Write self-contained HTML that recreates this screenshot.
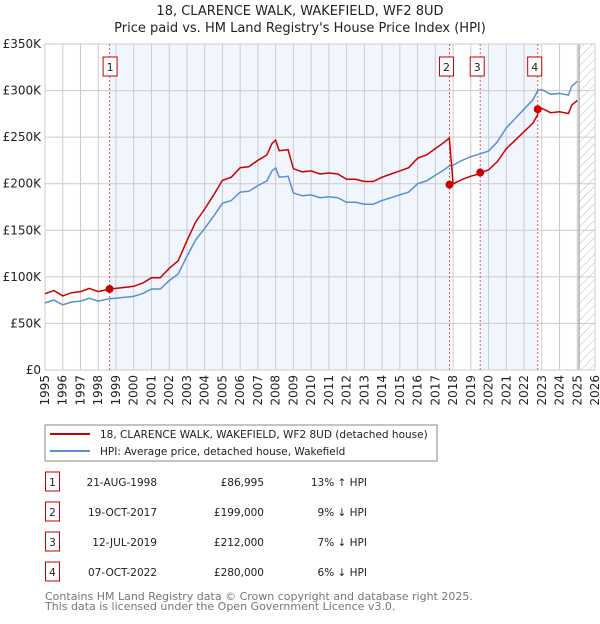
<!DOCTYPE html>
<html><head><meta charset="utf-8"><style>
body{margin:0;background:#fff;font-family:"DejaVu Sans","Liberation Sans",sans-serif;}
svg text{font-family:"DejaVu Sans","Liberation Sans",sans-serif;}
</style></head><body>
<svg id="chart" width="600" height="620" xmlns="http://www.w3.org/2000/svg">
<defs><pattern id="hatch" width="6" height="6" patternUnits="userSpaceOnUse" patternTransform="rotate(45)"><line x1="0" y1="0" x2="0" y2="6" stroke="#bbb" stroke-width="1"/></pattern></defs>
<text x="300" y="15" text-anchor="middle" font-size="13" fill="#222">18, CLARENCE WALK, WAKEFIELD, WF2 8UD</text>
<text x="300" y="32" text-anchor="middle" font-size="13" fill="#222">Price paid vs. HM Land Registry's House Price Index (HPI)</text>
<g id="plot"></g>
<rect x="45" y="425" width="392" height="36" fill="#fff" stroke="#888"/>
<line x1="50" y1="434" x2="90" y2="434" stroke="#cc0000" stroke-width="2"/>
<text x="100" y="438" font-size="10.5" fill="#222">18, CLARENCE WALK, WAKEFIELD, WF2 8UD (detached house)</text>
<line x1="50" y1="451" x2="90" y2="451" stroke="#5b8fd4" stroke-width="2"/>
<text x="100" y="455" font-size="10.5" fill="#222">HPI: Average price, detached house, Wakefield</text>
<g id="table" font-size="10.5" fill="#222"></g>
<text x="45" y="600" font-size="11" fill="#777">Contains HM Land Registry data © Crown copyright and database right 2025.</text>
<text x="45" y="610" font-size="11" fill="#777">This data is licensed under the Open Government Licence v3.0.</text>
</svg>
<script>
const hpiYears=[1995,1995.5,1996,1996.5,1997,1997.5,1998,1998.64,1999,1999.5,2000,2000.5,2001,2001.5,2002,2002.5,2003,2003.5,2004,2004.5,2005,2005.5,2006,2006.5,2007,2007.5,2007.8,2008,2008.2,2008.7,2009,2009.5,2010,2010.5,2011,2011.5,2012,2012.5,2013,2013.5,2014,2014.5,2015,2015.5,2016,2016.5,2017,2017.5,2017.79,2018,2018.5,2019,2019.53,2020,2020.5,2021,2021.5,2022,2022.5,2022.77,2023,2023.5,2024,2024.5,2024.7,2025];
const hpiValues=[72,75,70,73,74,77,74,76.5,77,78,79,82,87,87,96,103,122,140,152,165,179,182,191,192,198,203,214,217,207,208,190,187,188,185,186,185,180,180,178,178,182,185,188,191,200,203,209,215,219,220,225,229,232,235,245,260,270,280,290,300,301,296,297,295,305,310];
const saleYears=[1998.64,2017.8,2019.53,2022.77];
const salePrices=[86.995,199,212,280];
const saleLabels=["1","2","3","4"];
const saleDates=["21-AUG-1998","19-OCT-2017","12-JUL-2019","07-OCT-2022"];
const salePriceText=["£86,995","£199,000","£212,000","£280,000"];
const saleHpiText=["13% ↑ HPI","9% ↓ HPI","7% ↓ HPI","6% ↓ HPI"];
const yTicks=[0,50,100,150,200,250,300,350];
const yTickLabels=["£0","£50K","£100K","£150K","£200K","£250K","£300K","£350K"];
const xTicks=[1995,1996,1997,1998,1999,2000,2001,2002,2003,2004,2005,2006,2007,2008,2009,2010,2011,2012,2013,2014,2015,2016,2017,2018,2019,2020,2021,2022,2023,2024,2025,2026];

const L=45,R=595,T=44,B=370,X0=1995,X1=2026,Y1=350;
const X=v=>L+(v-X0)/(X1-X0)*(R-L);
const Y=v=>B-v/Y1*(B-T);
const NS="http://www.w3.org/2000/svg";
const plot=document.getElementById('plot');
function mk(tag,attrs,parent){const e=document.createElementNS(NS,tag);for(const k in attrs)e.setAttribute(k,attrs[k]);(parent||plot).appendChild(e);return e;}
function hpiAt(t){for(let i=0;i<hpiYears.length-1;i++){if(t<=hpiYears[i+1]){const f=(t-hpiYears[i])/(hpiYears[i+1]-hpiYears[i]);return hpiValues[i]+f*(hpiValues[i+1]-hpiValues[i]);}}return hpiValues[hpiValues.length-1];}

let bg=mk('rect',{x:L,y:T,width:R-L,height:B-T,fill:'#fff'});


for(let i=0;i<saleYears.length;i+=2){
 const end=i+1<saleYears.length?saleYears[i+1]:2025;
 const r=mk('rect',{x:X(saleYears[i]),y:T,width:X(end)-X(saleYears[i]),height:B-T,fill:'#eef3fc',opacity:0.8});
 
 
}
let hz=mk('rect',{x:X(2025.1),y:T,width:R-X(2025.1),height:B-T,fill:'url(#hatch)'});


yTicks.forEach((v,i)=>{
 const g=mk('line',{x1:L,x2:R,y1:Y(v),y2:Y(v),stroke:'#ccc'});
 
 
 const t=mk('text',{x:L-4,y:Y(v)+4,'text-anchor':'end','font-size':12,fill:'#222'});
 t.textContent=yTickLabels[i];
 
 
});
xTicks.forEach(v=>{
 const g=mk('line',{x1:X(v),x2:X(v),y1:T,y2:B,stroke:'#ccc'});
 
 
 const t=mk('text',{x:0,y:0,'text-anchor':'end','font-size':12,fill:'#222',transform:`translate(${X(v)+4},${B+5}) rotate(-90)`});
 t.textContent=v;
 
 
});
let cl=mk('line',{x1:X(2025.1),x2:X(2025.1),y1:T,y2:B,stroke:'#888'});


let fr=mk('rect',{x:L,y:T,width:R-L,height:B-T,fill:'none',stroke:'#ccc'});


saleYears.forEach((s,i)=>{
 const l=mk('line',{x1:X(s),x2:X(s),y1:T,y2:B,stroke:'#f05555','stroke-dasharray':'2,2'});
 
 
 const bx=X(s)-7-(i==0?-0.5:3);
 const b=mk('rect',{x:bx,y:57,width:14,height:19,fill:'#fff',stroke:'#cc0000'});
 
 
 const t=mk('text',{x:bx+7,y:71,'text-anchor':'middle','font-size':11,fill:'#222'});
 t.textContent=saleLabels[i];
 
 
});
let d='';hpiYears.forEach((yr,i)=>{d+=(i?'L':'M')+X(yr).toFixed(1)+','+Y(hpiValues[i]).toFixed(1);});
let hp=mk('path',{d:d,fill:'none',stroke:'#5b8fd4','stroke-width':1.5});


function factorAt(t){let f=salePrices[0]/hpiAt(saleYears[0]);for(let i=0;i<saleYears.length;i++){if(t>=saleYears[i])f=salePrices[i]/hpiAt(saleYears[i]);}return f;}
let pts=[];hpiYears.forEach((yr,i)=>{
 saleYears.forEach((s,j)=>{if(j>0&&s>yr-0.01&&(i==0||s>hpiYears[i-1])&&s<=yr){pts.push([s-0.001,hpiAt(s)*factorAt(s-0.002)]);}});
 pts.push([yr,hpiValues[i]*factorAt(yr)]);
});
pts.sort((a,b)=>a[0]-b[0]);
d='';pts.forEach((p,i)=>{d+=(i?'L':'M')+X(p[0]).toFixed(1)+','+Y(p[1]).toFixed(1);});
let rp=mk('path',{d:d,fill:'none',stroke:'#cc0000','stroke-width':1.5});


saleYears.forEach((s,i)=>{
 const c=mk('circle',{cx:X(s),cy:Y(salePrices[i]),r:4,fill:'#cc0000'});
 
 
});
const tb=document.getElementById('table');
saleYears.forEach((s,i)=>{
 const y=483+i*30;
 const b=mk('rect',{x:45.5,y:y-11,width:14,height:19,fill:'#fff',stroke:'#cc0000'},tb);
 
 
 const cells=[[52.5,saleLabels[i],'middle'],[157,saleDates[i],'end'],[264,salePriceText[i],'end'],[367,saleHpiText[i],'end']];
 cells.forEach(c=>{
  const t=mk('text',{x:c[0],y:y+3,'text-anchor':c[2]},tb);
  t.textContent=c[1];
  
  
 });
});
</script>
</body></html>
